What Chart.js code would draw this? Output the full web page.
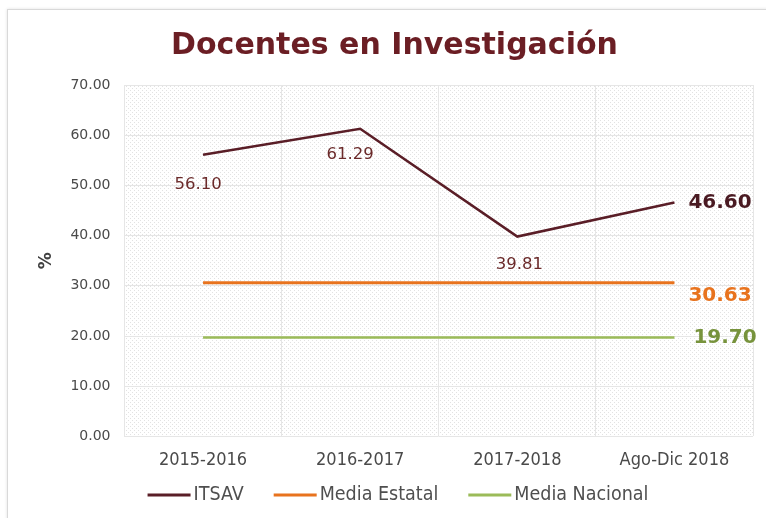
<!DOCTYPE html>
<html>
<head>
<meta charset="utf-8">
<script src="https://cdn.jsdelivr.net/npm/chart.js@4.4.0/dist/chart.umd.min.js"></script>
<style>
  html, body { margin: 0; padding: 0; background: #fff; }
  #wrap { position: absolute; left: 7px; top: 9px; width: 770px; height: 520px;
          border: 1px solid #d9d9d9; box-shadow: 0 0 3px rgba(0,0,0,0.12); background: #fff; }
  #c { position: absolute; left: 0; top: 0; }
</style>
</head>
<body>
<div id="wrap"></div>
<canvas id="c" width="766" height="518"></canvas>
<script>
const categories = ['2015-2016', '2016-2017', '2017-2018', 'Ago-Dic 2018'];
const itsav = [56.10, 61.29, 39.81, 46.60];
const mediaEstatal = [30.63, 30.63, 30.63, 30.63];
const mediaNacional = [19.70, 19.70, 19.70, 19.70];
const seriesNames = ['ITSAV', 'Media Estatal', 'Media Nacional'];

const colorItsav = '#5a1e27';
const colorEstatal = '#e8731e';
const colorNacional = '#9bbb59';
const seriesColors = [colorItsav, colorEstatal, colorNacional];

// dotted background of the plot area
function makePattern() {
  const p = document.createElement('canvas');
  p.width = 4; p.height = 4;
  const g = p.getContext('2d');
  g.fillStyle = '#ffffff';
  g.fillRect(0, 0, 4, 4);
  g.fillStyle = '#e2e2e2';
  g.fillRect(0, 0, 1, 1);
  g.fillRect(2, 2, 1, 1);
  return g.createPattern(p, 'repeat');
}

const bgPlugin = {
  id: 'bg',
  beforeDraw(chart) {
    const { ctx, chartArea: a } = chart;
    ctx.save();
    ctx.fillStyle = makePattern();
    ctx.fillRect(a.left, a.top, a.right - a.left, a.bottom - a.top);
    ctx.restore();
  }
};

// label nudges, like the hand-placed Excel labels
const belowDx = [-5, -10, 2];
const belowDy = [30, 26, 28];

const labelPlugin = {
  id: 'labels',
  afterDatasetsDraw(chart) {
    const ctx = chart.ctx;
    ctx.save();
    ctx.textBaseline = 'middle';
    // ITSAV
    const m0 = chart.getDatasetMeta(0);
    m0.data.forEach((pt, i) => {
      const txt = itsav[i].toFixed(2);
      if (i < itsav.length - 1) {
        ctx.font = '16.5px "DejaVu Sans"';
        ctx.fillStyle = '#6b2a2a';
        ctx.textAlign = 'center';
        ctx.fillText(txt, pt.x + belowDx[i], pt.y + belowDy[i]);
      } else {
        ctx.font = 'bold 20px "DejaVu Sans"';
        ctx.fillStyle = '#4a1a22';
        ctx.textAlign = 'left';
        ctx.fillText(txt, pt.x + 14, pt.y);
      }
    });
    ctx.font = 'bold 20px "DejaVu Sans"';
    ctx.textAlign = 'left';
    // Media Estatal
    const m1 = chart.getDatasetMeta(1);
    const p1 = m1.data[m1.data.length - 1];
    ctx.fillStyle = colorEstatal;
    ctx.fillText(mediaEstatal[mediaEstatal.length - 1].toFixed(2), p1.x + 14, p1.y + 13);
    // Media Nacional
    const m2 = chart.getDatasetMeta(2);
    const p2 = m2.data[m2.data.length - 1];
    ctx.fillStyle = '#77933c';
    ctx.fillText(mediaNacional[mediaNacional.length - 1].toFixed(2), p2.x + 19, p2.y);
    ctx.restore();
  }
};

// legend drawn by hand to get the tight Excel-like spacing
const legendPlugin = {
  id: 'legendLine',
  afterDraw(chart) {
    const ctx = chart.ctx;
    ctx.save();
    ctx.font = '19.5px "DejaVu Sans Condensed"';
    ctx.textBaseline = 'middle';
    ctx.textAlign = 'left';
    const boxW = 43, gap = 3, spacing = 30, y = 495;
    let total = 0;
    seriesNames.forEach((n, i) => {
      total += boxW + gap + ctx.measureText(n).width + (i ? spacing : 0);
    });
    let x = 398 - total / 2;
    seriesNames.forEach((n, i) => {
      ctx.strokeStyle = seriesColors[i];
      ctx.lineWidth = 3;
      ctx.beginPath();
      ctx.moveTo(x, y);
      ctx.lineTo(x + boxW, y);
      ctx.stroke();
      ctx.fillStyle = '#4f4f4f';
      ctx.fillText(n, x + boxW + gap, y);
      x += boxW + gap + ctx.measureText(n).width + spacing;
    });
    ctx.restore();
  }
};

new Chart(document.getElementById('c'), {
  type: 'line',
  data: {
    labels: categories,
    datasets: [
      { label: seriesNames[0], data: itsav, borderColor: colorItsav, backgroundColor: colorItsav, borderWidth: 2.5, pointRadius: 0, tension: 0 },
      { label: seriesNames[1], data: mediaEstatal, borderColor: colorEstatal, backgroundColor: colorEstatal, borderWidth: 3, pointRadius: 0 },
      { label: seriesNames[2], data: mediaNacional, borderColor: colorNacional, backgroundColor: colorNacional, borderWidth: 2.5, pointRadius: 0 }
    ]
  },
  options: {
    responsive: false,
    animation: false,
    layout: { padding: { left: 36, right: 13, top: 0, bottom: 34 } },
    scales: {
      x: {
        offset: true,
        grid: { offset: true, color: '#e6e6e6', drawTicks: false },
        border: { display: false },
        ticks: { color: '#4a4a4a', font: { family: 'DejaVu Sans Condensed', size: 18 }, padding: 13, maxRotation: 0 }
      },
      y: {
        min: 0, max: 70,
        ticks: { stepSize: 10, color: '#4a4a4a', font: { family: 'DejaVu Sans', size: 14 }, padding: 14,
                 callback: v => v.toFixed(2) },
        grid: { color: '#e6e6e6', drawTicks: false },
        border: { display: false },
        title: { display: true, text: '%', color: '#404040', font: { family: 'DejaVu Sans', size: 17, weight: 'bold' }, padding: 0 }
      }
    },
    plugins: {
      title: {
        display: true,
        text: 'Docentes en Investigación',
        color: '#6b1e24',
        font: { family: 'DejaVu Sans', size: 30, weight: 'bold' },
        padding: { top: 28, bottom: 21 }
      },
      legend: { display: false },
      tooltip: { enabled: false }
    }
  },
  plugins: [bgPlugin, labelPlugin, legendPlugin]
});
</script>
</body>
</html>
